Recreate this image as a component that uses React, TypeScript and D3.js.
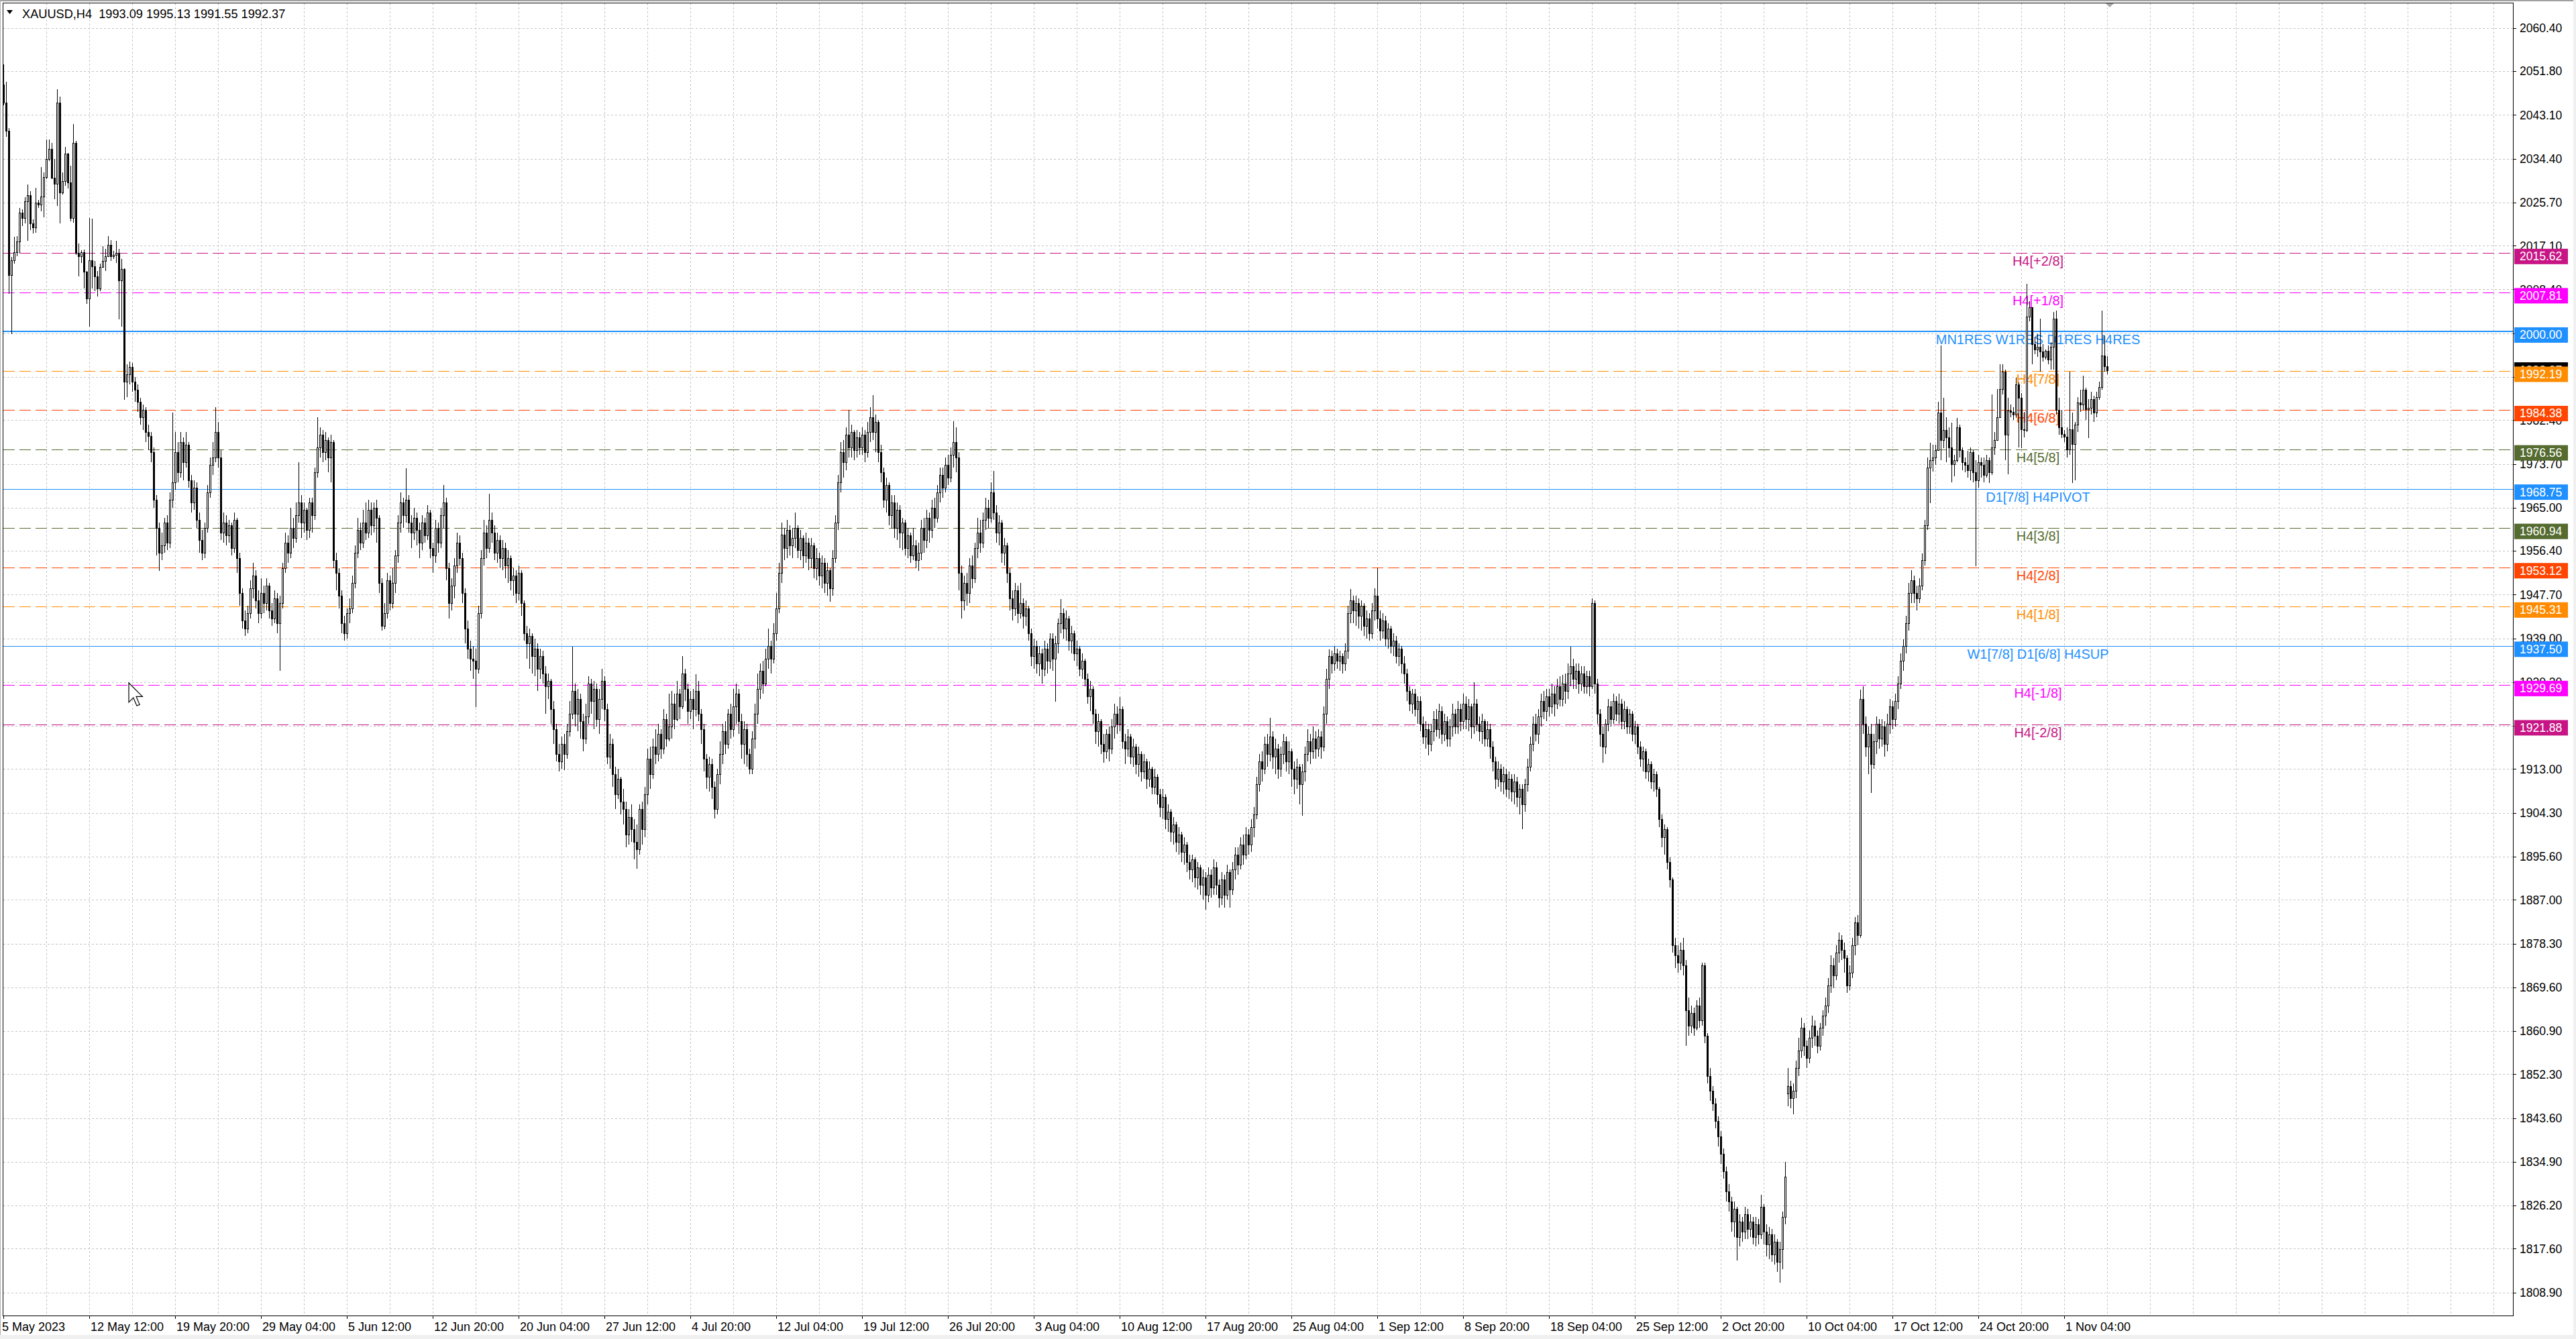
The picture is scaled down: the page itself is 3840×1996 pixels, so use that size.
import React, { useEffect } from 'react';
import * as d3 from 'd3';

const W = 3840;
const H = 1996;

// H4 closes, highs, lows (bar 0 = 5 May 2023 04:00)
const CLOSE: number[] = [
2045.5,2040.0,2011.3,2014.2,2015.8,2017.9,2023.7,2022.6,2026.0,2027.1,
2021.5,2020.8,2025.7,2025.3,2026.9,2030.8,2034.4,2036.4,2030.6,2029.4,
2045.6,2027.7,2030.0,2035.4,2029.7,2022.6,2037.5,2015.7,2015.0,2015.8,
2011.9,2006.6,2014.2,2013.0,2011.0,2008.6,2012.9,2014.0,2015.0,2017.3,
2015.0,2015.3,2015.6,2010.2,2012.4,1990.0,1991.5,1993.0,1990.0,1988.5,
1986.0,1983.0,1984.5,1980.0,1979.2,1976.0,1966.5,1961.0,1956.0,1957.5,
1962.0,1958.0,1966.5,1970.0,1976.0,1972.0,1978.0,1974.0,1977.5,1970.5,
1966.0,1969.0,1962.5,1958.5,1956.0,1961.0,1968.0,1973.5,1975.0,1980.0,
1975.0,1960.0,1962.0,1959.5,1961.5,1957.0,1962.5,1955.0,1948.0,1942.5,
1941.0,1944.0,1949.0,1951.5,1946.5,1944.0,1948.0,1946.0,1949.5,1944.5,
1943.0,1947.0,1942.0,1946.0,1953.0,1958.0,1956.0,1961.0,1959.0,1963.5,
1966.0,1962.0,1964.5,1960.5,1966.0,1963.5,1972.0,1977.0,1979.5,1976.0,
1978.5,1975.0,1978.0,1954.5,1952.0,1947.5,1942.0,1940.0,1944.0,1945.0,
1950.0,1956.0,1960.5,1958.0,1962.0,1960.0,1964.5,1961.5,1965.0,1963.0,
1950.0,1941.5,1944.0,1950.5,1946.0,1950.0,1955.5,1962.0,1966.0,1963.5,
1966.5,1962.0,1960.0,1963.0,1960.5,1958.0,1962.0,1959.5,1964.0,1957.0,
1955.5,1961.0,1958.0,1963.5,1966.0,1953.0,1946.0,1949.5,1953.5,1958.0,
1955.0,1948.0,1941.0,1937.0,1935.0,1934.5,1933.0,1944.0,1955.0,1960.0,
1957.0,1962.5,1960.0,1956.0,1958.5,1955.0,1957.0,1953.5,1955.0,1950.5,
1951.5,1948.0,1952.0,1946.0,1940.0,1938.0,1939.5,1935.5,1937.0,1933.0,
1935.5,1932.0,1929.5,1930.5,1925.0,1921.0,1916.0,1914.5,1918.0,1916.0,
1920.5,1924.0,1928.5,1924.0,1927.0,1922.5,1919.0,1923.5,1930.0,1926.5,
1929.0,1923.0,1927.0,1930.5,1925.0,1915.5,1918.0,1912.0,1908.0,1911.0,
1906.5,1905.0,1900.0,1903.5,1901.0,1898.5,1897.0,1905.0,1901.0,1908.0,
1915.0,1912.0,1917.5,1916.0,1920.0,1917.0,1923.0,1919.0,1921.5,1926.0,
1923.0,1928.0,1925.5,1932.0,1929.0,1924.5,1927.0,1925.0,1928.5,1924.0,
1921.0,1915.0,1911.5,1914.0,1909.5,1905.0,1912.0,1916.0,1920.5,1918.0,
1924.0,1921.0,1925.5,1928.0,1922.5,1918.0,1921.0,1916.0,1913.0,1919.0,
1924.0,1929.0,1932.5,1930.0,1935.0,1937.5,1935.0,1940.0,1945.0,1952.0,
1959.6,1957.0,1960.5,1957.5,1959.0,1961.0,1956.5,1959.0,1955.5,1958.0,
1955.0,1957.5,1953.0,1955.0,1951.5,1954.0,1950.0,1952.5,1949.0,1955.0,
1962.0,1970.0,1976.0,1974.0,1979.5,1977.0,1980.0,1976.5,1979.0,1977.0,
1979.5,1976.0,1980.0,1983.0,1980.0,1982.0,1976.0,1972.0,1966.5,1969.5,
1963.5,1966.0,1961.0,1964.5,1960.0,1962.0,1957.0,1959.5,1955.5,1957.5,
1954.5,1956.0,1961.0,1958.5,1963.0,1960.5,1965.0,1963.0,1968.0,1971.5,
1969.0,1973.5,1971.0,1975.5,1978.0,1975.0,1952.0,1946.5,1950.0,1948.0,
1953.5,1951.0,1957.0,1960.0,1958.0,1962.5,1965.0,1963.0,1968.0,1964.0,
1960.0,1962.0,1956.0,1957.5,1952.0,1947.0,1945.0,1948.5,1944.0,1946.0,
1943.5,1945.0,1940.0,1935.5,1937.5,1934.0,1936.0,1933.0,1937.0,1934.5,
1939.0,1935.0,1938.0,1942.0,1944.0,1941.0,1943.0,1938.5,1940.0,1936.0,
1937.0,1933.0,1934.5,1931.0,1927.5,1929.0,1924.0,1920.5,1922.5,1918.0,
1916.5,1920.0,1917.0,1921.5,1924.0,1922.0,1925.0,1918.5,1917.0,1919.5,
1915.5,1917.5,1914.0,1916.0,1912.5,1914.5,1911.0,1913.0,1909.5,1911.5,
1908.0,1905.5,1907.5,1903.0,1904.5,1900.5,1902.0,1898.5,1900.0,1896.5,
1898.0,1894.5,1893.0,1895.0,1891.5,1893.5,1890.0,1891.5,1888.0,1892.0,
1889.5,1893.5,1890.0,1887.5,1891.0,1888.0,1892.5,1889.0,1893.0,1896.0,
1894.0,1898.0,1896.0,1900.0,1898.0,1901.5,1904.0,1910.0,1914.5,1913.0,
1918.0,1916.0,1919.5,1915.5,1917.0,1913.0,1916.0,1918.5,1914.5,1916.5,
1913.0,1911.0,1913.5,1910.0,1912.5,1916.0,1918.5,1916.5,1919.0,1917.0,
1919.5,1917.5,1924.0,1931.0,1935.5,1934.0,1936.0,1934.5,1935.5,1934.0,
1936.5,1944.0,1946.5,1944.5,1946.0,1943.5,1945.5,1941.5,1943.0,1940.0,
1944.5,1947.5,1943.0,1940.5,1942.5,1939.0,1941.0,1937.5,1938.5,1935.5,
1937.0,1934.0,1932.0,1928.5,1926.0,1928.0,1925.0,1926.5,1922.0,1919.5,
1921.0,1918.0,1920.5,1923.0,1921.0,1924.5,1920.0,1922.5,1919.0,1921.5,
1924.0,1921.5,1925.0,1922.5,1926.0,1923.0,1925.5,1921.5,1926.0,1922.0,
1920.5,1922.5,1919.0,1921.0,1917.5,1914.5,1911.0,1913.0,1910.5,1912.0,
1909.0,1911.0,1908.5,1910.5,1907.5,1909.0,1906.0,1910.0,1913.5,1918.0,
1922.0,1920.0,1923.5,1926.5,1924.5,1927.5,1925.5,1928.0,1926.0,1929.5,
1927.0,1930.0,1928.5,1932.0,1933.5,1931.0,1932.5,1930.0,1932.0,1929.5,
1931.5,1929.5,1946.0,1930.0,1924.0,1920.0,1917.5,1922.0,1925.5,1923.0,
1926.5,1924.0,1926.0,1922.5,1925.0,1921.5,1924.0,1920.0,1921.5,1917.5,
1915.0,1916.5,1912.5,1914.0,1910.5,1912.0,1909.0,1903.0,1899.5,1901.0,
1894.5,1891.0,1878.0,1876.0,1874.5,1877.0,1874.0,1865.0,1862.0,1864.5,
1861.5,1866.0,1863.0,1874.0,1860.0,1852.0,1849.0,1846.5,1843.0,1840.0,
1836.5,1833.0,1829.0,1827.0,1823.0,1825.5,1820.0,1823.0,1821.0,1824.5,
1821.5,1823.0,1820.0,1822.5,1820.5,1826.0,1821.0,1818.5,1820.5,1816.5,
1819.0,1815.0,1817.5,1824.0,1832.0,1850.0,1847.5,1849.0,1853.5,1857.0,
1861.5,1858.0,1855.5,1859.5,1862.0,1860.0,1858.0,1861.5,1864.0,1866.0,
1870.0,1874.0,1872.0,1876.5,1879.0,1877.0,1875.5,1870.0,1872.5,1878.0,
1882.5,1880.0,1927.0,1922.0,1917.5,1920.0,1914.0,1918.5,1922.0,1919.0,
1921.5,1918.0,1922.0,1925.5,1923.0,1926.5,1930.0,1934.5,1937.5,1942.0,
1948.0,1950.5,1948.0,1947.0,1949.5,1954.5,1961.5,1973.0,1974.4,1975.0,
1976.5,1983.9,1978.4,1980.4,1979.0,1977.0,1973.7,1974.5,1981.0,1976.5,
1974.0,1973.5,1972.4,1976.0,1972.0,1970.5,1974.0,1973.5,1971.5,1974.5,
1972.0,1977.0,1978.5,1983.0,1988.6,1992.0,1979.5,1984.3,1984.1,1983.5,
1989.5,1986.8,1980.6,1980.5,2003.0,2004.8,1997.5,1996.5,1997.0,1996.0,
1995.0,1996.2,1994.5,1997.0,2002.6,1984.4,1981.0,1979.7,1979.1,1976.6,
1980.6,1977.7,1981.5,1985.9,1985.5,1988.4,1984.6,1984.9,1986.6,1983.9,
1987.0,1989.0,1995.3,1993.09,1992.37
];

const HIGH: number[] = [
2053.1,2049.7,2040.5,2014.8,2018.8,2019.0,2024.6,2024.3,2026.8,2029.3,
2027.9,2022.3,2028.6,2026.2,2032.8,2031.7,2038.2,2038.2,2037.5,2034.4,
2048.2,2046.8,2031.7,2036.8,2035.6,2033.0,2041.3,2038.0,2017.5,2016.2,
2016.3,2012.0,2022.6,2022.5,2014.0,2012.0,2013.5,2017.0,2016.5,2019.0,
2018.2,2016.0,2018.0,2016.5,2014.5,2012.6,1993.5,1994.0,1993.8,1991.0,
1989.5,1986.8,1985.5,1985.0,1981.5,1980.0,1977.0,1967.5,1962.0,1960.0,
1963.0,1963.5,1968.0,1983.9,1980.0,1978.0,1980.0,1979.0,1980.0,1978.0,
1971.5,1970.5,1970.0,1964.0,1960.5,1962.0,1969.5,1975.0,1978.0,1985.0,
1982.0,1976.5,1964.0,1963.5,1962.5,1962.0,1964.0,1963.0,1956.0,1949.0,
1944.5,1945.5,1950.5,1954.0,1952.5,1948.5,1951.0,1949.5,1951.0,1950.0,
1946.0,1948.5,1948.0,1947.5,1954.0,1960.0,1959.5,1965.0,1963.0,1966.0,
1974.0,1967.5,1966.0,1965.0,1967.0,1967.0,1973.0,1983.0,1981.0,1980.5,
1980.0,1979.0,1979.5,1978.5,1956.0,1953.0,1948.5,1943.5,1945.0,1947.0,
1951.5,1957.5,1963.0,1962.0,1964.5,1966.0,1966.5,1966.0,1966.0,1966.5,
1963.5,1951.0,1946.0,1952.0,1951.5,1953.0,1956.5,1963.5,1968.0,1967.0,
1972.8,1967.5,1963.5,1965.0,1964.0,1962.0,1963.5,1963.0,1965.5,1964.5,
1958.0,1962.5,1962.0,1965.0,1969.5,1967.0,1954.0,1951.0,1955.0,1960.0,
1959.5,1956.0,1949.0,1942.5,1938.5,1937.5,1937.0,1945.5,1956.5,1962.5,
1961.5,1967.8,1964.0,1961.5,1960.0,1959.5,1958.5,1958.0,1956.5,1955.5,
1953.0,1952.5,1953.5,1952.5,1946.5,1941.5,1941.0,1940.0,1939.0,1938.0,
1937.0,1936.5,1933.5,1932.0,1931.0,1926.5,1922.0,1918.0,1919.5,1920.0,
1922.0,1926.5,1937.4,1930.0,1929.0,1928.0,1924.0,1926.0,1931.5,1931.0,
1930.5,1930.0,1929.0,1933.0,1931.5,1926.0,1920.0,1919.0,1913.5,1913.0,
1911.5,1909.0,1906.5,1905.0,1906.0,1903.0,1902.0,1906.0,1906.5,1909.5,
1917.0,1917.5,1919.0,1921.0,1922.0,1921.0,1925.0,1924.0,1928.0,1928.5,
1928.0,1930.5,1929.0,1935.5,1933.0,1930.0,1928.5,1929.0,1931.9,1930.5,
1925.0,1922.0,1916.0,1915.5,1915.0,1910.5,1913.0,1918.5,1922.0,1922.5,
1925.0,1926.0,1929.0,1930.0,1929.0,1924.0,1922.5,1922.0,1917.0,1920.5,
1926.0,1932.0,1934.0,1934.5,1937.0,1941.0,1938.5,1942.0,1948.0,1954.0,
1962.0,1961.0,1962.5,1961.5,1961.0,1964.0,1961.5,1960.5,1959.5,1960.0,
1959.0,1959.0,1958.0,1957.0,1956.0,1955.5,1955.0,1954.0,1953.0,1956.5,
1963.5,1971.5,1978.0,1978.5,1981.0,1984.5,1981.5,1980.5,1980.5,1980.0,
1981.0,1980.5,1982.0,1985.0,1987.4,1983.5,1982.5,1977.5,1973.0,1971.0,
1970.0,1967.5,1967.5,1966.0,1965.5,1963.0,1962.5,1961.0,1960.0,1961.0,
1958.5,1958.0,1962.5,1963.0,1964.5,1964.0,1966.5,1967.0,1969.5,1973.0,
1973.0,1975.0,1975.5,1977.0,1982.2,1981.0,1976.0,1953.5,1951.5,1952.0,
1955.0,1955.5,1958.0,1963.0,1962.5,1964.0,1967.0,1966.5,1970.0,1972.3,
1965.5,1963.5,1962.5,1959.0,1958.0,1953.0,1948.5,1950.0,1949.5,1950.0,
1947.0,1946.5,1945.5,1941.0,1939.0,1938.5,1937.5,1937.0,1938.5,1938.0,
1940.0,1940.0,1939.5,1943.0,1946.8,1945.0,1944.5,1943.5,1941.5,1940.5,
1938.5,1937.5,1936.0,1935.0,1932.0,1930.5,1929.5,1925.0,1924.0,1923.0,
1920.0,1921.0,1921.5,1923.0,1926.0,1925.5,1927.3,1925.5,1920.0,1921.0,
1920.0,1919.0,1918.0,1917.5,1916.5,1916.0,1915.0,1914.5,1913.5,1913.0,
1912.0,1909.0,1909.0,1908.0,1906.0,1905.0,1903.5,1902.5,1901.5,1900.5,
1899.5,1898.5,1896.0,1896.0,1895.5,1894.5,1894.0,1893.0,1892.5,1893.5,
1893.0,1895.0,1894.5,1891.0,1892.5,1892.0,1894.0,1893.0,1894.5,1897.5,
1897.5,1899.5,1900.0,1901.5,1901.0,1903.0,1905.5,1911.5,1916.0,1916.5,
1919.5,1920.0,1923.2,1920.5,1919.0,1918.0,1917.5,1920.0,1919.5,1918.5,
1917.0,1914.5,1915.0,1914.0,1914.0,1917.5,1921.0,1920.0,1921.5,1920.5,
1921.0,1920.5,1925.5,1933.0,1936.8,1936.5,1937.5,1937.0,1936.5,1936.0,
1938.0,1945.5,1948.8,1947.5,1947.5,1947.0,1946.5,1946.0,1944.5,1944.0,
1946.0,1949.0,1952.9,1944.5,1944.0,1943.5,1942.0,1941.5,1940.0,1939.5,
1938.0,1937.5,1935.5,1933.0,1929.5,1929.0,1929.0,1927.5,1927.5,1923.5,
1922.5,1922.0,1922.0,1924.5,1925.0,1926.0,1925.5,1924.0,1923.5,1923.0,
1926.0,1925.0,1926.5,1926.0,1928.0,1927.5,1927.0,1926.0,1930.3,1927.0,
1923.5,1924.0,1923.0,1922.5,1922.0,1918.5,1915.5,1914.5,1914.0,1913.5,
1913.0,1912.5,1912.0,1912.0,1911.5,1910.0,1910.0,1911.0,1915.0,1919.5,
1923.5,1924.0,1925.0,1928.0,1928.5,1929.0,1929.0,1930.0,1929.5,1931.0,
1931.5,1931.8,1932.0,1934.0,1937.3,1935.0,1934.0,1934.0,1933.5,1933.5,
1932.5,1932.5,1947.0,1946.5,1931.0,1925.0,1921.5,1923.0,1927.0,1926.5,
1928.0,1927.5,1928.0,1927.0,1926.5,1925.5,1925.0,1924.5,1922.5,1922.0,
1918.5,1917.5,1917.0,1915.0,1914.5,1913.0,1912.5,1909.5,1904.0,1902.0,
1901.5,1895.5,1891.5,1879.5,1878.0,1878.5,1879.5,1875.0,1867.5,1866.0,
1865.5,1867.0,1867.5,1874.5,1874.5,1860.5,1853.5,1850.0,1847.5,1844.0,
1841.0,1837.5,1834.0,1830.5,1828.0,1827.0,1826.0,1824.5,1824.0,1826.0,
1825.5,1824.5,1824.0,1824.0,1823.5,1828.4,1826.5,1822.5,1822.0,1821.5,
1820.5,1819.5,1819.0,1825.0,1834.9,1853.5,1851.0,1850.5,1855.0,1859.5,
1863.5,1862.5,1859.0,1861.0,1864.0,1863.0,1861.0,1862.5,1865.0,1867.5,
1871.5,1876.0,1875.5,1878.0,1880.5,1880.0,1878.5,1876.0,1874.0,1879.5,
1883.6,1884.0,1928.8,1929.5,1923.5,1921.5,1922.0,1920.0,1923.5,1923.0,
1923.0,1922.5,1924.0,1927.0,1926.5,1928.0,1931.5,1936.0,1938.8,1943.5,
1950.0,1952.5,1951.5,1949.5,1951.0,1955.9,1962.5,1975.0,1977.9,1977.5,
1977.5,1986.1,1997.3,1986.8,1983.0,1981.0,1981.9,1975.5,1982.8,1981.5,
1977.0,1975.0,1976.3,1977.0,1976.5,1974.5,1975.5,1975.0,1975.0,1975.5,
1975.0,1987.5,1980.0,1988.6,1993.5,1993.5,1992.5,1986.8,1985.5,1985.0,
1990.8,1989.9,1987.8,1984.0,2009.5,2006.0,2004.8,1999.0,1999.5,2002.6,
1997.5,1996.5,1997.2,1997.9,2003.9,2004.2,1986.8,1984.4,1980.5,1981.0,
1992.1,1983.9,1982.0,1987.0,1988.5,1991.2,1988.8,1986.6,1988.0,1987.2,
1988.0,1990.0,2004.2,1999.3,1995.13
];

const LOW: number[] = [
2045.0,2038.8,2007.5,1999.5,2013.5,2015.0,2015.7,2021.0,2021.5,2018.0,
2020.2,2019.5,2019.7,2024.6,2024.0,2022.8,2030.4,2033.9,2030.3,2026.4,
2025.0,2021.5,2027.3,2029.0,2028.5,2022.0,2021.7,2015.2,2011.0,2013.7,
2008.6,2005.5,2001.0,2008.6,2008.0,2007.0,2008.0,2013.0,2012.0,2015.7,
2014.0,2014.4,2013.7,2002.4,2001.0,1986.5,1987.0,1989.5,1988.0,1986.0,
1984.0,1981.5,1980.5,1978.0,1976.5,1974.0,1965.0,1955.5,1952.4,1954.5,
1956.0,1956.5,1957.0,1965.0,1968.5,1970.0,1971.0,1970.5,1973.0,1969.0,
1964.0,1964.5,1961.0,1956.0,1954.6,1955.0,1960.0,1967.0,1971.5,1974.0,
1973.0,1958.5,1958.0,1957.5,1958.0,1955.5,1956.0,1952.0,1945.5,1941.0,
1939.5,1940.0,1943.0,1947.0,1945.0,1942.0,1943.0,1944.0,1944.5,1943.0,
1941.5,1942.0,1940.0,1932.5,1945.0,1952.0,1954.0,1955.0,1957.0,1958.0,
1962.0,1959.0,1960.0,1958.5,1959.0,1960.0,1962.5,1971.0,1975.0,1974.0,
1974.5,1972.0,1970.0,1953.0,1948.5,1945.0,1940.0,1938.5,1939.0,1942.0,
1944.0,1949.0,1955.0,1956.5,1957.0,1958.5,1959.0,1959.5,1960.0,1958.0,
1948.0,1940.5,1940.8,1943.0,1944.5,1945.0,1948.0,1954.0,1960.0,1961.0,
1962.0,1960.0,1957.0,1958.5,1957.5,1955.0,1956.5,1958.0,1958.5,1955.0,
1952.0,1954.0,1956.0,1957.0,1961.0,1950.5,1943.0,1944.5,1947.0,1952.0,
1953.5,1946.0,1938.0,1935.0,1932.5,1931.0,1925.3,1932.0,1943.0,1953.5,
1955.0,1956.0,1958.0,1954.5,1954.0,1953.0,1952.5,1951.0,1950.0,1948.5,
1947.5,1946.0,1946.5,1943.5,1938.5,1935.0,1933.0,1932.0,1931.5,1928.5,
1931.0,1930.0,1924.0,1927.0,1922.0,1918.0,1914.5,1912.5,1913.0,1912.8,
1915.0,1919.5,1923.0,1921.5,1920.5,1919.0,1916.5,1918.0,1922.0,1924.0,
1921.0,1921.5,1920.0,1925.0,1922.5,1914.0,1913.0,1909.5,1905.0,1907.0,
1904.0,1902.0,1897.5,1898.0,1898.5,1895.0,1893.2,1896.0,1898.0,1899.5,
1906.0,1909.0,1911.0,1914.0,1914.5,1915.0,1916.0,1917.5,1918.5,1919.0,
1921.0,1922.5,1923.0,1925.0,1926.5,1922.0,1923.0,1921.0,1923.5,1922.5,
1918.0,1912.5,1909.0,1908.5,1907.0,1903.2,1904.0,1910.0,1914.0,1916.0,
1917.0,1919.0,1919.5,1922.0,1920.0,1915.0,1914.0,1913.5,1912.0,1912.0,
1917.0,1922.0,1927.0,1928.0,1929.5,1933.0,1932.0,1934.0,1938.5,1944.0,
1950.0,1954.5,1955.0,1955.5,1955.0,1957.0,1955.0,1954.5,1953.0,1954.0,
1952.5,1953.0,1951.0,1950.5,1949.5,1949.0,1948.0,1947.5,1946.3,1947.5,
1954.0,1960.5,1968.0,1971.0,1972.5,1975.0,1975.0,1974.5,1975.0,1975.5,
1975.5,1974.0,1975.0,1978.0,1978.5,1976.0,1974.0,1970.0,1965.0,1964.0,
1961.5,1961.0,1959.0,1958.5,1957.0,1956.5,1955.5,1955.0,1954.0,1954.5,
1953.0,1952.4,1954.5,1956.0,1957.0,1958.0,1959.0,1961.0,1962.0,1966.0,
1967.0,1968.0,1969.5,1970.0,1973.0,1972.0,1948.5,1943.0,1944.5,1945.5,
1946.0,1949.0,1950.0,1955.0,1956.0,1957.0,1960.5,1961.0,1962.0,1962.5,
1958.0,1957.5,1954.0,1953.5,1950.0,1944.5,1942.5,1943.5,1942.0,1943.0,
1941.0,1941.5,1938.5,1933.5,1933.0,1932.0,1931.5,1930.0,1931.5,1932.0,
1933.0,1932.5,1926.4,1936.0,1940.0,1939.0,1938.5,1936.5,1936.0,1934.5,
1933.5,1931.5,1931.0,1929.5,1926.0,1924.5,1922.0,1918.0,1917.5,1916.0,
1914.2,1915.0,1914.5,1916.0,1919.0,1920.0,1920.5,1917.0,1914.0,1915.5,
1914.0,1913.5,1912.0,1911.5,1910.5,1911.0,1909.0,1909.5,1908.0,1908.0,
1906.0,1903.5,1903.0,1901.0,1900.5,1898.5,1898.0,1896.5,1896.0,1894.5,
1894.0,1892.5,1891.0,1890.5,1889.5,1889.0,1888.0,1887.0,1885.1,1886.5,
1887.5,1888.0,1888.0,1885.5,1886.0,1885.5,1887.0,1885.5,1888.0,1891.0,
1892.0,1893.0,1894.0,1895.0,1896.0,1896.5,1899.5,1903.0,1908.5,1910.5,
1912.0,1913.5,1914.5,1913.0,1912.0,1911.0,1911.5,1914.0,1912.5,1912.0,
1909.5,1908.0,1909.0,1906.0,1903.7,1910.5,1914.5,1914.0,1915.0,1915.0,
1915.5,1915.0,1916.5,1922.0,1929.0,1932.0,1932.5,1933.0,1932.5,1932.0,
1932.5,1935.0,1942.0,1942.0,1941.5,1941.0,1940.5,1939.5,1939.0,1938.5,
1939.0,1942.5,1941.0,1938.5,1939.0,1937.5,1937.0,1936.0,1935.5,1934.0,
1933.5,1932.0,1930.0,1926.5,1924.5,1924.0,1923.5,1922.0,1920.5,1918.0,
1917.0,1915.7,1916.5,1918.5,1919.5,1919.0,1918.0,1918.5,1917.5,1917.5,
1919.5,1920.0,1920.0,1920.5,1921.0,1921.0,1920.5,1919.0,1920.0,1920.5,
1918.5,1918.0,1917.5,1917.5,1915.0,1912.5,1909.0,1909.5,1908.5,1908.0,
1907.5,1907.0,1906.5,1906.0,1905.5,1904.0,1901.1,1904.5,1908.5,1912.5,
1916.5,1918.5,1918.0,1921.5,1923.0,1922.5,1923.5,1924.0,1923.5,1925.0,
1925.5,1925.5,1926.0,1927.0,1929.5,1929.0,1929.0,1928.0,1928.5,1928.0,
1928.0,1927.5,1929.0,1928.0,1922.0,1917.5,1914.2,1916.0,1920.5,1921.5,
1922.0,1922.5,1922.0,1921.0,1921.0,1920.0,1920.0,1918.5,1918.0,1916.0,
1913.5,1912.5,1911.0,1910.5,1909.0,1908.5,1907.5,1901.5,1897.5,1896.0,
1893.0,1889.5,1876.5,1873.5,1872.5,1873.0,1872.0,1858.0,1860.0,1860.5,
1860.0,1861.0,1861.5,1862.0,1858.5,1850.5,1847.0,1845.0,1841.5,1838.0,
1834.5,1831.5,1827.0,1825.0,1821.0,1820.0,1815.3,1818.0,1819.0,1819.5,
1819.5,1820.0,1818.5,1818.0,1818.5,1819.5,1818.5,1816.0,1815.5,1815.0,
1814.5,1813.0,1810.8,1813.5,1822.5,1846.0,1845.5,1844.4,1847.5,1852.0,
1855.5,1856.0,1853.5,1854.5,1857.5,1858.0,1856.5,1857.0,1860.0,1862.0,
1864.5,1868.5,1869.5,1871.0,1874.5,1875.0,1872.5,1868.5,1869.0,1871.5,
1876.0,1878.0,1879.5,1920.0,1915.5,1912.0,1908.2,1913.0,1916.0,1917.0,
1917.5,1915.5,1916.5,1920.0,1921.0,1921.5,1925.0,1929.0,1932.5,1936.0,
1940.5,1946.0,1946.0,1944.5,1946.0,1948.5,1953.5,1960.5,1965.9,1972.2,
1973.5,1976.5,1974.4,1976.8,1974.0,1975.0,1970.0,1971.3,1974.0,1975.0,
1972.5,1972.0,1971.0,1970.5,1970.0,1953.4,1969.0,1971.0,1970.0,1971.0,
1969.9,1971.5,1975.5,1978.5,1983.0,1987.5,1974.5,1971.7,1983.0,1982.5,
1982.8,1977.0,1976.8,1979.0,1980.0,2002.0,1993.5,1995.5,1995.0,1992.0,
1994.0,1994.5,1993.5,1992.4,1992.4,1983.5,1979.5,1978.8,1978.0,1975.0,
1975.5,1969.9,1970.5,1980.0,1984.0,1984.5,1982.5,1978.8,1983.5,1982.0,
1983.0,1986.5,1988.5,1992.0,1991.55
];

// Opens differing from the previous close (first bar, Monday gap)
const OPEN_OVERRIDES: [number, number][] = [[0, 2049.1], [665, 1848.5]];

const PRICE_TICKS: string[] = [
  '2060.40','2051.80','2043.10','2034.40','2025.70','2017.10','2008.40','1999.70','1991.00','1982.40',
  '1973.70','1965.00','1956.40','1947.70','1939.00','1930.30','1921.60','1913.00','1904.30','1895.60',
  '1887.00','1878.30','1869.60','1860.90','1852.30','1843.60','1834.90','1826.20','1817.60','1808.90'
];

const DATE_BARS: number[] = [0,32,64,96,128,160,192,224,256,288,320,352,384,416,448,480,512,544,576,608,640,672,704,736,768];
const DATE_TEXTS: string[] = [
  '5 May 2023','12 May 12:00','19 May 20:00','29 May 04:00','5 Jun 12:00','12 Jun 20:00','20 Jun 04:00',
  '27 Jun 12:00','4 Jul 20:00','12 Jul 04:00','19 Jul 12:00','26 Jul 20:00','3 Aug 04:00','10 Aug 12:00',
  '17 Aug 20:00','25 Aug 04:00','1 Sep 12:00','8 Sep 20:00','18 Sep 04:00','25 Sep 12:00','2 Oct 20:00',
  '10 Oct 04:00','17 Oct 12:00','24 Oct 20:00','1 Nov 04:00'
];

const LEVEL_PRICES: number[] = [2015.62, 2007.81, 2000.00, 1992.19, 1984.38, 1976.56, 1968.75, 1960.94, 1953.12, 1945.31, 1937.50, 1929.69, 1921.88];
const LEVEL_TEXTS: string[] = ['H4[+2/8]','H4[+1/8]','MN1RES W1RES D1RES H4RES','H4[7/8]','H4[6/8]','H4[5/8]','D1[7/8] H4PIVOT','H4[3/8]','H4[2/8]','H4[1/8]','W1[7/8] D1[6/8] H4SUP','H4[-1/8]','H4[-2/8]'];
const HEADER_SYMBOL = 'XAUUSD,H4';
const HEADER_OHLC = ['1993.09', '1995.13', '1991.55', '1992.37'];
const BID = 1992.37;

// styles (kept apart from the data)
const LEVEL_COLORS = ['#C71585','#FF00FF','#1E90FF','#FF8C00','#FF4500','#556B2F','#1E90FF','#556B2F','#FF4500','#FF8C00','#1E90FF','#FF00FF','#C71585'];
const LEVEL_SOLID = [false,false,true,false,false,false,true,false,false,false,true,false,false];
const LEVEL_WIDTH = [1,1,2,1,1,1,1,1,1,1,1,1,1];

const FONT = "'Liberation Sans', Arial, sans-serif";
const PL = 4, PT = 4, PR = 3746, PB = 1961;

export default function App() {
  useEffect(() => {
    document.body.style.margin = '0';
    document.body.style.background = '#ffffff';
  }, []);

  const x = d3.scaleLinear().domain([0, 1]).range([5, 9]);
  const y = d3.scaleLinear().domain([1808.9, 2060.4]).range([1926.7, 41.7]);
  const openMap = new Map(OPEN_OVERRIDES);

  const bars = CLOSE.map((c, i) => {
    const o = openMap.has(i) ? (openMap.get(i) as number) : (i > 0 ? CLOSE[i - 1] : c);
    const h = Math.max(HIGH[i], o, c);
    const l = Math.min(LOW[i], o, c);
    return { i, o, h, l, c };
  });

  const vGrid: number[] = [];
  for (let b = 16; x(b) < PR; b += 16) vGrid.push(b);

  const snap = (v: number) => Math.round(v) + 0.5;

  return (
    <svg width={W} height={H} style={{ display: 'block', position: 'absolute', left: 0, top: 0, background: '#fff' }}
      fontFamily={FONT}>
      <rect x={0} y={0} width={W} height={H} fill="#ffffff" />
      {/* window edges */}
      <rect x={0} y={0} width={W} height={2} fill="#a0a0a0" />
      <rect x={0} y={0} width={1} height={H} fill="#b0b0b0" />
      <rect x={3836} y={0} width={4} height={H} fill="#f0f0f0" />
      <rect x={0} y={1990} width={W} height={6} fill="#f0f0f0" />

      {/* grid */}
      <g stroke="#c4c4c4" strokeWidth={1} strokeDasharray="3,3" shapeRendering="crispEdges">
        {vGrid.map(b => (
          <line key={'vg' + b} x1={x(b) + 0.5} x2={x(b) + 0.5} y1={PT + 1} y2={PB} />
        ))}
        {PRICE_TICKS.map(t => (
          <line key={'hg' + t} x1={PL + 1} x2={PR} y1={snap(y(+t))} y2={snap(y(+t))} />
        ))}
      </g>

      {/* level lines */}
      <g shapeRendering="crispEdges">
        {LEVEL_PRICES.map((p, k) => (
          <line key={'lv' + k} x1={PL + 1} x2={PR} y1={LEVEL_WIDTH[k] === 2 ? Math.round(y(p)) : snap(y(p))}
            y2={LEVEL_WIDTH[k] === 2 ? Math.round(y(p)) : snap(y(p))}
            stroke={LEVEL_COLORS[k]} strokeWidth={LEVEL_WIDTH[k]}
            strokeDasharray={LEVEL_SOLID[k] ? undefined : '17,7'} />
        ))}
      </g>

      {/* level texts */}
      <g fontSize={20} textAnchor="middle">
        {LEVEL_PRICES.map((p, k) => (
          <text key={'lt' + k} x={3038} y={y(p) + 19} fill={LEVEL_COLORS[k]}>{LEVEL_TEXTS[k]}</text>
        ))}
      </g>

      {/* candles */}
      <g shapeRendering="crispEdges">
        {bars.map(b => {
          const cx = Math.round(x(b.i));
          const yh = Math.round(y(b.h));
          const yl = Math.round(y(b.l));
          const yTop = Math.round(y(Math.max(b.o, b.c)));
          const yBot = Math.round(y(Math.min(b.o, b.c)));
          const bull = b.c > b.o;
          const hgt = yBot - yTop;
          return (
            <g key={'c' + b.i}>
              <line x1={cx + 0.5} x2={cx + 0.5} y1={yh} y2={Math.max(yl, yh + 1)} stroke="#000" strokeWidth={1} />
              {hgt < 2 ? (
                <rect x={cx - 1} y={yTop} width={3} height={Math.max(1, hgt + 1)} fill="#000" />
              ) : bull ? (
                <rect x={cx - 0.5} y={yTop + 0.5} width={2} height={hgt} fill="#fff" stroke="#000" strokeWidth={1} />
              ) : (
                <rect x={cx - 1} y={yTop} width={3} height={hgt + 1} fill="#000" />
              )}
            </g>
          );
        })}
      </g>

      {/* plot frame */}
      <rect x={PL + 0.5} y={PT + 0.5} width={PR - PL} height={PB - PT} fill="none" stroke="#000" strokeWidth={1} shapeRendering="crispEdges" />

      {/* chart shift marker */}
      <polygon points={`3139,${PT + 1} 3151,${PT + 1} 3145,${PT + 7}`} fill="#a8a8a8" />

      {/* price axis */}
      <g shapeRendering="crispEdges">
        {PRICE_TICKS.map(t => (
          <line key={'pt' + t} x1={PR + 1} x2={PR + 5} y1={snap(y(+t))} y2={snap(y(+t))} stroke="#000" />
        ))}
      </g>
      <g fontSize={17.5} fill="#000">
        {PRICE_TICKS.map(t => (
          <text key={'pl' + t} x={3756} y={y(+t) + 6.3}>{t}</text>
        ))}
      </g>

      {/* bid label (behind level labels) */}
      <rect x={3748} y={y(BID) - 11.5} width={80} height={23} fill="#000" />
      <text x={3756} y={y(BID) + 6.3} fontSize={17.5} fill="#fff">{BID.toFixed(2)}</text>

      {/* level price tags */}
      {LEVEL_PRICES.map((p, k) => (
        <g key={'tag' + k}>
          <rect x={3748} y={y(p) - 6.5} width={80} height={23} fill={LEVEL_COLORS[k]} />
          <text x={3756} y={y(p) + 11} fontSize={17.5} fill="#fff">{p.toFixed(2)}</text>
        </g>
      ))}

      {/* date axis */}
      <g shapeRendering="crispEdges">
        {DATE_BARS.map(b => (
          <line key={'dt' + b} x1={x(b) + 0.5} x2={x(b) + 0.5} y1={PB} y2={PB + 5} stroke="#000" />
        ))}
      </g>
      <g fontSize={18} fill="#000">
        {DATE_BARS.map((b, k) => (
          <text key={'dl' + b} x={b === 0 ? 3 : x(b) + 2} y={1984}>{DATE_TEXTS[k]}</text>
        ))}
      </g>

      {/* header */}
      <polygon points="10,15 19,15 14.5,21" fill="#000" />
      <text x={33} y={27} fontSize={18.2} fill="#000" style={{ whiteSpace: 'pre' }}>
        {HEADER_SYMBOL + '  ' + HEADER_OHLC.join(' ')}
      </text>

      {/* mouse cursor */}
      <path transform="translate(192,1018) scale(1.7)" d="M0,0 L0,17 L4,13 L7,20 L9.5,19 L6.5,12 L12,12 Z"
        fill="#fff" stroke="#000" strokeWidth={0.7} />
    </svg>
  );
}
